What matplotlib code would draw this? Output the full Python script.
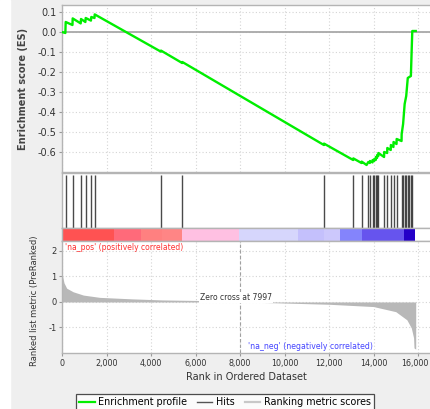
import matplotlib
matplotlib.use('Agg')
import matplotlib.pyplot as plt
from matplotlib.lines import Line2D
import matplotlib.patches as mpatches
import matplotlib.transforms as mtransforms

# ---------------- data ----------------
es_rank = [0, 150, 166, 470, 480, 840, 854, 1050, 1065, 1300, 1317, 1460, 1470,
           4440, 4450, 5400, 5408, 11770, 11775, 13085, 13093, 13460, 13468,
           13690, 13765, 13835, 13840, 13955, 13960, 14030, 14035, 14100, 14105,
           14160, 14165, 14215, 14220, 14475, 14480, 14615, 14620, 14775, 14780,
           14895, 14900, 15035, 15040, 15260, 15266, 15330, 15400, 15470, 15540,
           15680, 15710, 15743, 15897]
es_value = [0.0, -0.005, 0.05, 0.035, 0.068, 0.043, 0.065, 0.05, 0.07, 0.057, 0.075, 0.07, 0.088,
            -0.098, -0.093, -0.155, -0.15, -0.565, -0.558, -0.64, -0.632, -0.655, -0.648,
            -0.665, -0.65, -0.655, -0.645, -0.652, -0.64, -0.645, -0.635, -0.64, -0.625,
            -0.63, -0.615, -0.62, -0.605, -0.625, -0.6, -0.605, -0.58, -0.59, -0.565,
            -0.575, -0.55, -0.56, -0.535, -0.545, -0.51, -0.46, -0.36, -0.32, -0.23,
            -0.22, -0.11, 0.005, 0.005]

hits = [166, 480, 854, 1065, 1317, 1470, 4450, 5408, 11775, 13093, 13468, 13765,
        13840, 13960, 14030, 14100, 14160, 14215, 14480, 14620, 14780, 14900, 15040,
        15266, 15330, 15400, 15470, 15540, 15610, 15680, 15743]

metric_rank = [0, 30, 90, 210, 500, 960, 1700, 3200, 4500, 6000, 7000, 7997,
               9500, 12000, 14000, 15000, 15500, 15700, 15800, 15820, 15897]
metric_value = [1.2, 1.0, 0.75, 0.54, 0.4, 0.27, 0.18, 0.12, 0.08, 0.06, 0.03, 0.0,
                -0.03, -0.09, -0.18, -0.38, -0.7, -1.02, -1.4, -1.8, -1.85]

band_starts = [0, 2351, 3551, 4480, 5379, 7970, 10593, 11789, 12494, 13468, 15385]
band_ends = [2351, 3551, 4480, 5379, 7970, 10593, 11789, 12494, 13468, 15385, 15865]
band_colors = ['#ff5252', '#ff6a7a', '#ff8080', '#ff8585', '#ffc0e2', '#d6d6fc',
               '#c4c0fc', '#ccc8fc', '#8484fc', '#6654ee', '#2400c8']

zero_cross = 7997
x_ticks = [0, 2000, 4000, 6000, 8000, 10000, 12000, 14000, 16000]
es_ticks = [0.1, 0.0, -0.1, -0.2, -0.3, -0.4, -0.5, -0.6]
metric_ticks = [2, 1, 0, -1]

# ---------------- layout ----------------
W, H = 431, 409
fig = plt.figure(figsize=(W / 100, H / 100), dpi=100, facecolor='#efefef')
fig.add_artist(mpatches.Rectangle((0, 0), 10 / W, 1, transform=fig.transFigure,
                                  color='white', zorder=-5))

XMAX = 16584

def ax_at(x0, y0, x1, y1):
    return fig.add_axes([x0 / W, 1 - y1 / H, (x1 - x0) / W, (y1 - y0) / H])

spine_c = '#b4b4b4'
grid_kw = dict(linestyle=(0, (1, 2)), color='#d4d4d4', linewidth=0.8)

def style(ax):
    for s in ax.spines.values():
        s.set_color(spine_c)
        s.set_linewidth(1.0)
    ax.spines['right'].set_visible(False)
    ax.set_xlim(0, XMAX)
    ax.tick_params(colors='#999999', labelcolor='#333333', length=2, width=0.8, pad=2)

# Enrichment score panel
ax_es = ax_at(62, 5, 431, 172)
style(ax_es)
ax_es.set_ylim(-0.70, 0.135)
ax_es.set_yticks(es_ticks)
ax_es.set_yticklabels([f'{t:.1f}' for t in es_ticks], fontsize=7)
ax_es.set_xticks(x_ticks)
ax_es.tick_params(axis='x', length=0, labelbottom=False)
ax_es.grid(True, **grid_kw)
ax_es.set_axisbelow(True)
ax_es.axhline(0, color='#a8a8a8', lw=1.3, zorder=1)
ax_es.plot(es_rank, es_value, color='#00ee00', lw=1.7, zorder=3)
ax_es.set_ylabel('Enrichment score (ES)', fontsize=7, fontweight='bold', color='#444444')
ax_es.yaxis.set_label_coords(-0.092, 0.5)

# Hits panel
ax_hits = ax_at(62, 173, 431, 228)
style(ax_hits)
ax_hits.set_ylim(0, 1)
ax_hits.set_xticks([])
ax_hits.set_yticks([])
ax_hits.vlines(hits, 0, 0.96, color='#2a2a2a', lw=1.0, alpha=0.85)

# Colour band
ax_band = ax_at(62, 228, 431, 241)
style(ax_band)
ax_band.set_ylim(0, 1)
ax_band.set_xticks([])
ax_band.set_yticks([])
for s, e, c in zip(band_starts, band_ends, band_colors):
    ax_band.axvspan(s, e, 0, 1, color=c, lw=0)

# Ranked list metric panel
ax_m = ax_at(62, 241, 431, 353)
style(ax_m)
ax_m.set_ylim(-2.0, 2.39)
ax_m.set_yticks(metric_ticks)
ax_m.set_yticklabels([str(t) for t in metric_ticks], fontsize=6)
ax_m.set_xticks(x_ticks)
ax_m.set_xticklabels([f'{t:,}' for t in x_ticks], fontsize=5.8)
last = ax_m.get_xticklabels()[-1]
last.set_transform(last.get_transform() +
                   mtransforms.ScaledTranslation(-3 / 100, 0, fig.dpi_scale_trans))
ax_m.grid(True, **grid_kw)
ax_m.set_axisbelow(True)
ax_m.fill_between(metric_rank, metric_value, 0, color='#b8b8b8', lw=0, zorder=2)
ax_m.axvline(zero_cross, color='#a0a0a0', lw=0.8, linestyle=(0, (3, 2)), zorder=2)
ax_m.text(6200, 0.18, f'Zero cross at {zero_cross}', fontsize=5.5, color='#333333',
          va='center', ha='left', zorder=4,
          bbox=dict(facecolor='white', edgecolor='none', pad=0.5))
ax_m.text(150, 2.12, "'na_pos' (positively correlated)", fontsize=5.5, color='#ff3030',
          va='center', ha='left')
ax_m.text(8360, -1.75, "'na_neg' (negatively correlated)", fontsize=5.6, color='#4444ff',
          va='center', ha='left')
ax_m.set_ylabel('Ranked list metric (PreRanked)', fontsize=6, color='#333333')
ax_m.yaxis.set_label_coords(-0.062, 0.47)
ax_m.set_xlabel('Rank in Ordered Dataset', fontsize=7, color='#333333', labelpad=3)

# Legend
handles = [Line2D([], [], color='#00ee00', lw=1.6),
           Line2D([], [], color='#555555', lw=1.0),
           Line2D([], [], color='#c8c8c8', lw=1.6)]
labels = ['Enrichment profile', 'Hits', 'Ranking metric scores']
leg = fig.legend(handles, labels, loc='upper center', bbox_to_anchor=(225 / W, 1 - 389 / H),
                 ncol=3, fontsize=6.9, frameon=True, fancybox=False,
                 handlelength=1.6, handletextpad=0.4, columnspacing=1.0,
                 borderpad=0.35, edgecolor='#222222', facecolor='white')
leg.get_frame().set_linewidth(0.9)

fig.savefig('out.png', dpi=100, facecolor=fig.get_facecolor())
